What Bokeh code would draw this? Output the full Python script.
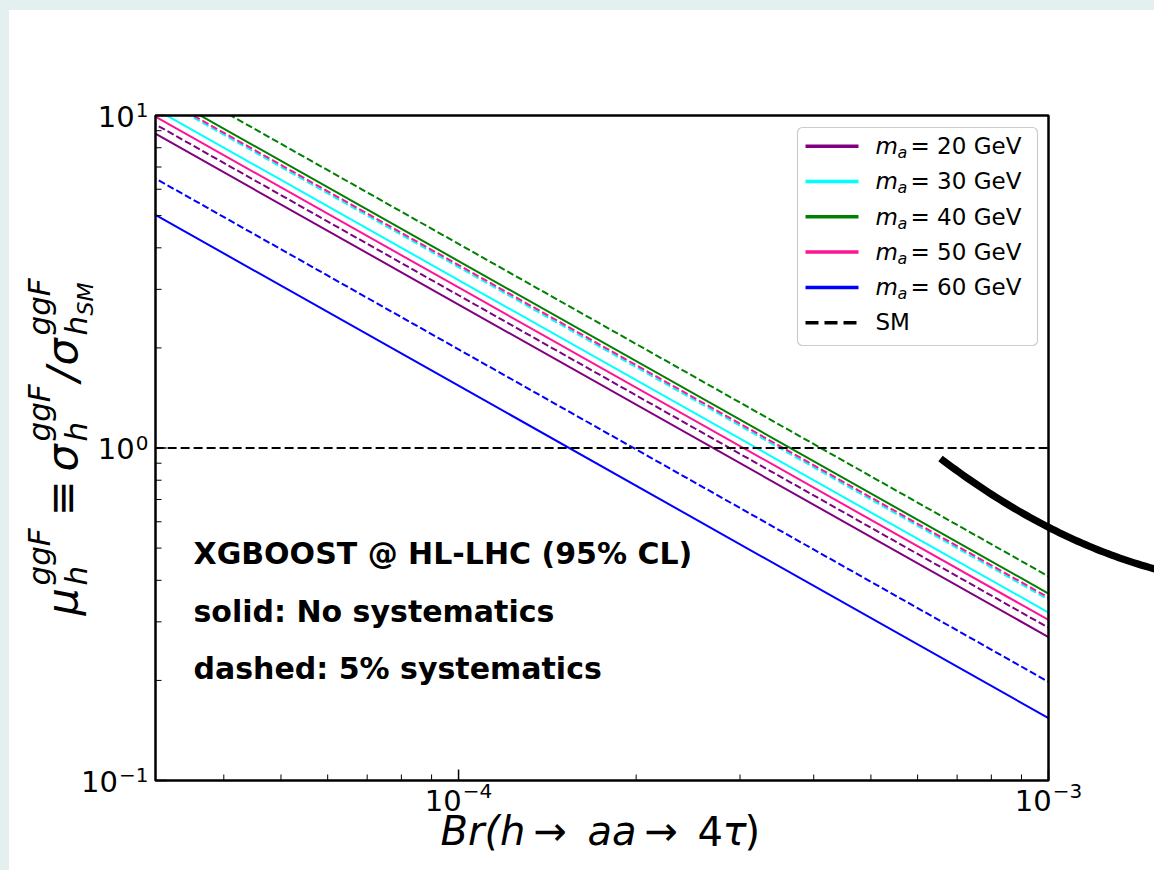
import numpy as np
from bokeh.plotting import figure
from bokeh.models import Label, PolyAnnotation, BoxAnnotation, Spacer
from bokeh.layouts import column, row
from bokeh.embed import file_html
from bokeh.resources import INLINE

# ---------------- data ----------------
br = [3.0e-5, 1.0e-4, 1.0e-3]
masses = ["20", "30", "40", "50", "60"]
colors = ["purple", "cyan", "green", "deeppink", "blue"]
mu20_nosys = [9.00, 2.70, 0.270]
mu30_nosys = [10.67, 3.20, 0.320]
mu40_nosys = [12.17, 3.65, 0.365]
mu50_nosys = [10.13, 3.04, 0.304]
mu60_nosys = [5.13, 1.54, 0.154]
mu20_sys5 = [9.60, 2.88, 0.288]
mu30_sys5 = [11.67, 3.50, 0.350]
mu40_sys5 = [13.70, 4.11, 0.411]
mu50_sys5 = [11.83, 3.55, 0.355]
mu60_sys5 = [6.60, 1.98, 0.198]
sm_br = [1.0e-5, 1.0e-2]
sm_mu = [1.0, 1.0]
x_lim = [3.064e-5, 1.0e-3]
y_lim = [0.1, 10.0]
x_major = [1e-4, 1e-3]
x_minor = [4e-5, 5e-5, 6e-5, 7e-5, 8e-5, 9e-5, 2e-4, 3e-4, 4e-4, 5e-4, 6e-4, 7e-4, 8e-4, 9e-4]
y_major = [0.1, 1.0, 10.0]
y_minor = [0.2, 0.3, 0.4, 0.5, 0.6, 0.7, 0.8, 0.9, 2, 3, 4, 5, 6, 7, 8, 9]
xtick_exps = [-4, -3]
ytick_exps = [-1, 0, 1]
annot_lines = ["XGBOOST @ HL-LHC (95% CL)", "solid: No systematics", "dashed: 5% systematics"]
legend_labels = ["20", "30", "40", "50", "60"]

nosys = [mu20_nosys, mu30_nosys, mu40_nosys, mu50_nosys, mu60_nosys]
sys5 = [mu20_sys5, mu30_sys5, mu40_sys5, mu50_sys5, mu60_sys5]

# ---------------- layout geometry (page pixels) ----------------
OX, OY = 9, 10            # figure offset in page
FL, FR, FT, FB = 155, 1048, 115, 780   # axes box in page pixels
W, H = 1154 - OX, 870 - OY
FONT = "DejaVu Sans"
BG = "#e4eff0"

lx0, lx1 = np.log10(x_lim[0]), np.log10(x_lim[1])
ly0, ly1 = np.log10(y_lim[0]), np.log10(y_lim[1])
DX = (lx1 - lx0) / (FR - FL)   # decades per pixel
DY = (ly1 - ly0) / (FB - FT)


def px2x(px):
    return float(10 ** (lx0 + (px - FL) * DX))


def py2y(py):
    return float(10 ** (ly0 + (FB - py) * DY))


def x2px(x):
    return FL + (np.log10(x) - lx0) / DX


def y2py(y):
    return FB - (np.log10(y) - ly0) / DY


# the plotting frame covers the whole canvas; the axes box is drawn inside it
p = figure(width=W, height=H, x_axis_type="log", y_axis_type="log",
           x_axis_location=None, y_axis_location=None,
           x_range=(px2x(OX), px2x(OX + W)), y_range=(py2y(OY + H), py2y(OY)),
           output_backend="svg", toolbar_location=None,
           min_border_left=0, min_border_right=0, min_border_top=0, min_border_bottom=0)
p.background_fill_color = "white"
p.border_fill_color = "white"
p.outline_line_color = None
p.xgrid.visible = False
p.ygrid.visible = False

# ---------------- curves ----------------
for col, ys in zip(colors, nosys):
    p.line(br, ys, line_color=col, line_width=2)
for col, ys in zip(colors, sys5):
    p.line(br, ys, line_color=col, line_width=2, line_dash="7 3")
p.line(sm_br, sm_mu, line_color="black", line_width=2.2, line_dash="9 4")


def cbox(l, r, t, b, **kw):
    return BoxAnnotation(left=l - OX, right=r - OX, top=t - OY, bottom=b - OY,
                         left_units="canvas", right_units="canvas",
                         top_units="canvas", bottom_units="canvas", **kw)


# white masks outside the axes box (clip the curves to it)
for l, r, t, b in [(OX, OX + W, OY, FT), (OX, OX + W, FB, OY + H), (OX, FL, OY, OY + H), (FR, OX + W, OY, OY + H)]:
    p.add_layout(cbox(l, r, t, b, fill_color="white", fill_alpha=1.0, line_color=None, level="guide"))

# ---------------- ticks (inward, bottom and left) ----------------
MAJ, MIN = 11, 6
ybot, xleft = y_lim[0], x_lim[0]
p.segment(x0=x_major, y0=[ybot] * len(x_major), x1=x_major,
          y1=[ybot * 10 ** (MAJ * DY)] * len(x_major), line_color="black", line_width=1.5, level="annotation")
p.segment(x0=x_minor, y0=[ybot] * len(x_minor), x1=x_minor,
          y1=[ybot * 10 ** (MIN * DY)] * len(x_minor), line_color="black", line_width=1, level="annotation")
p.segment(x0=[xleft] * len(y_major), y0=y_major, x1=[xleft * 10 ** (MAJ * DX)] * len(y_major),
          y1=y_major, line_color="black", line_width=1.5, level="annotation")
p.segment(x0=[xleft] * len(y_minor), y0=y_minor, x1=[xleft * 10 ** (MIN * DX)] * len(y_minor),
          y1=y_minor, line_color="black", line_width=1, level="annotation")

# axes box outline
p.add_layout(cbox(FL, FR, FT, FB, fill_alpha=0, line_color="black", line_alpha=1.0,
                  line_width=2.5, level="annotation"))


def lab(text, px, py, size, style="normal", align="left", angle=0.0):
    # py is the wanted baseline; rendered baseline sits ~0.36em lower, so lift it
    c = 0.36 * size
    if angle:
        px = px - c
    else:
        py = py - c
    p.add_layout(Label(x=px - OX, y=py - OY, x_units="canvas", y_units="canvas",
                       text=text, text_font=FONT,
                       text_font_size=f"{size}px", text_font_style=style,
                       text_align=align, text_baseline="alphabetic", angle=angle,
                       text_color="black"))


# ---------------- legend box ----------------
p.add_layout(cbox(797, 1037, 127, 345, fill_color="white", fill_alpha=0.85, line_color="#cccccc",
                  line_alpha=1.0, line_width=1.2, border_radius=5, level="annotation"))

# ---------------- tick labels ----------------
TS, SS = 29, 20
for e in ytick_exps:
    ty = y2py(10.0 ** e)
    sup = str(e).replace("-", "\u2212")
    sw = 0.64 * SS * len(str(abs(e))) + (0.84 * SS if e < 0 else 0)
    lab(sup, 148, ty + 2, SS, align="right")
    lab("10", 148 - sw - 1, ty + 11, TS, align="right")
for e in xtick_exps:
    tx = x2px(10.0 ** e)
    sup = str(e).replace("-", "\u2212")
    sw = 0.64 * SS * len(str(abs(e))) + (0.84 * SS if e < 0 else 0)
    tw = 1.272 * TS + 1 + sw
    start = tx - tw / 2
    lab("10", start, 810, TS)
    lab(sup, start + 1.272 * TS + 1, 798, SS)

# ---------------- axis labels ----------------
XB = 845
for t, x, st in [("Br(h", 440, "italic"), ("\u2192", 533, "normal"), ("aa", 587, "italic"),
                 ("\u2192", 644, "normal"), ("4", 697, "normal"), ("\u03c4", 722, "italic"),
                 (")", 744, "normal")]:
    lab(t, x, XB, 40, style=st)

A = np.pi / 2
BX = 77
SU, SB = 27, 10
ylab = [
    ("\u03bc", BX, 615, 43, "italic"),
    ("ggF", BX - SU, 585, 31, "italic"),
    ("h", BX + SB, 585, 31, "italic"),
    ("\u2261", BX, 516, 43, "normal"),
    ("\u03c3", BX, 471, 43, "italic"),
    ("ggF", BX - SU, 441, 31, "italic"),
    ("h", BX + SB, 441, 31, "italic"),
    ("/", BX, 381, 43, "italic"),
    ("\u03c3", BX, 365, 43, "italic"),
    ("ggF", BX - SU, 335, 31, "italic"),
    ("h", BX + SB, 335, 31, "italic"),
    ("SM", BX + SB + 6, 315, 22, "italic"),
]
for t, x, y, s, st in ylab:
    lab(t, x, y, s, style=st, angle=A)

# ---------------- annotation text ----------------
for i, t in enumerate(annot_lines):
    lab(t, 193, 564 + 57.5 * i, 30, style="bold")

# ---------------- legend entries ----------------
row0, dy = 145.7, 35.3
for i, (m, col) in enumerate(zip(legend_labels, colors)):
    yc = row0 + dy * i
    p.add_layout(PolyAnnotation(xs=[805 - OX, 858 - OX], ys=[yc - OY, yc - OY],
                                xs_units="canvas", ys_units="canvas",
                                line_color=col, line_alpha=1.0, line_width=3.5, fill_alpha=0,
                                level="overlay"))
    lab("m", 875, yc + 8, 23, style="italic")
    lab("a", 897, yc + 12, 16, style="italic")
    lab(f"= {m} GeV", 910, yc + 8, 23)
yc = row0 + dy * 5
p.add_layout(PolyAnnotation(xs=[805 - OX, 858 - OX], ys=[yc - OY, yc - OY],
                            xs_units="canvas", ys_units="canvas",
                            line_color="black", line_alpha=1.0, line_width=3.5, line_dash="13 6",
                            fill_alpha=0, level="overlay"))
lab("SM", 875, yc + 8, 23)

# ---------------- thick black arc (overlay mark in the picture) ----------------
P0 = np.array([940.0, 458.0])
C = np.array([1049.0, 541.0])
P2 = np.array([1160.0, 570.0])
t = np.linspace(0, 1, 60)[:, None]
pts = (1 - t) ** 2 * P0 + 2 * t * (1 - t) * C + t ** 2 * P2
d = 2 * (1 - t) * (C - P0) + 2 * t * (P2 - C)
n = np.column_stack([-d[:, 1], d[:, 0]]) / np.linalg.norm(d, axis=1)[:, None]
hw = 3.6
poly = np.vstack([pts + hw * n, (pts - hw * n)[::-1]])
p.add_layout(PolyAnnotation(xs=[float(a - OX) for a in poly[:, 0]], ys=[float(b - OY) for b in poly[:, 1]],
                            xs_units="canvas", ys_units="canvas",
                            fill_color="black", fill_alpha=1.0, line_color=None, level="overlay"))

top = Spacer(width=1154, height=OY, styles={"background-color": BG})
left = Spacer(width=OX, height=H, styles={"background-color": BG})
layout = column(top, row(left, p, spacing=0), spacing=0)

open("out.html", "w").write(file_html(layout, INLINE))
